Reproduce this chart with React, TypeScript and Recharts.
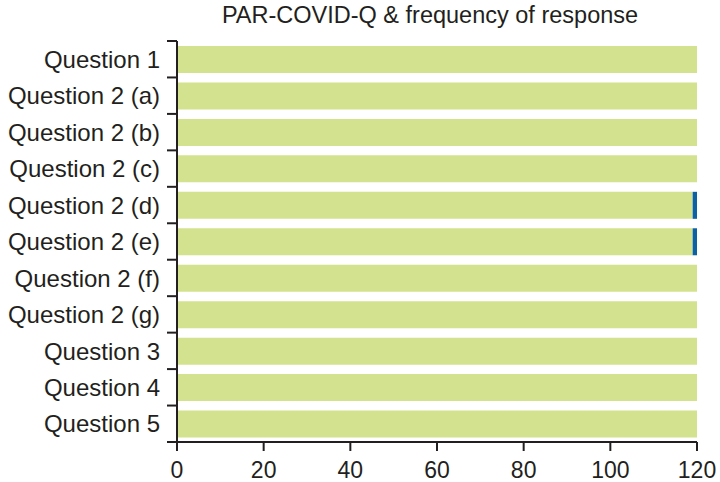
import React from 'react';
import { BarChart, Bar, XAxis, YAxis } from 'recharts';

const questions = [
  'Question 1',
  'Question 2 (a)',
  'Question 2 (b)',
  'Question 2 (c)',
  'Question 2 (d)',
  'Question 2 (e)',
  'Question 2 (f)',
  'Question 2 (g)',
  'Question 3',
  'Question 4',
  'Question 5',
];
const yesCounts = [120, 120, 120, 120, 119, 119, 120, 120, 120, 120, 120];
const noCounts = [0, 0, 0, 0, 1, 1, 0, 0, 0, 0, 0];
const xTicks = [0, 20, 40, 60, 80, 100, 120];

const data = questions.map((name, i) => ({ name, yes: yesCounts[i], no: noCounts[i] }));

const FONT = '"Liberation Sans", Arial, sans-serif';
const AXIS = '#231f20';
const TICK_SIZE = 10;
const TICK_MARGIN = 7;

// category label plus a tick mark on the band boundaries (above each band, and below the last)
const QuestionTick = (props: any) => {
  const { x, y, payload, index } = props;
  const half = payload.offset || 0;
  const x0 = x + TICK_MARGIN;
  const x1 = x0 + TICK_SIZE;
  const isLast = index === questions.length - 1;
  return (
    <g>
      <text
        x={x}
        y={y}
        dy="0.36em"
        textAnchor="end"
        fill="#231f20"
        fontSize={24}
        fontFamily={FONT}
      >
        {payload.value}
      </text>
      <line x1={x0} x2={x1} y1={y - half} y2={y - half} stroke={AXIS} strokeWidth={2} />
      {isLast && <line x1={x0} x2={x1} y1={y + half} y2={y + half} stroke={AXIS} strokeWidth={2} />}
    </g>
  );
};

export default function App() {
  return (
    <div style={{ position: 'absolute', left: 0, top: 0, width: 720, height: 482, background: '#fff' }}>
      <div
        style={{
          position: 'absolute',
          left: 0,
          width: 860,
          top: 2,
          textAlign: 'center',
          fontFamily: FONT,
          fontSize: 23.5,
          color: '#231f20',
        }}
      >
        PAR-COVID-Q &amp; frequency of response
      </div>
      <BarChart
        width={720}
        height={482}
        data={data}
        layout="vertical"
        margin={{ top: 41, right: 23, bottom: 0, left: 0 }}
      >
        <YAxis
          type="category"
          dataKey="name"
          width={177}
          interval={0}
          axisLine={{ stroke: AXIS, strokeWidth: 2 }}
          tickLine={false}
          tickSize={TICK_SIZE}
          tickMargin={TICK_MARGIN}
          tick={<QuestionTick />}
        />
        <XAxis
          type="number"
          domain={[0, 120]}
          ticks={xTicks}
          height={40}
          tickSize={9}
          tickMargin={11}
          axisLine={{ stroke: AXIS, strokeWidth: 2 }}
          tickLine={{ stroke: AXIS, strokeWidth: 2 }}
          tick={{ fill: '#231f20', fontSize: 23, fontFamily: FONT }}
        />
        <Bar dataKey="yes" stackId="a" fill="#d3e28e" barSize={27} isAnimationActive={false} />
        <Bar dataKey="no" stackId="a" fill="#0b61a4" barSize={27} isAnimationActive={false} />
      </BarChart>
    </div>
  );
}
